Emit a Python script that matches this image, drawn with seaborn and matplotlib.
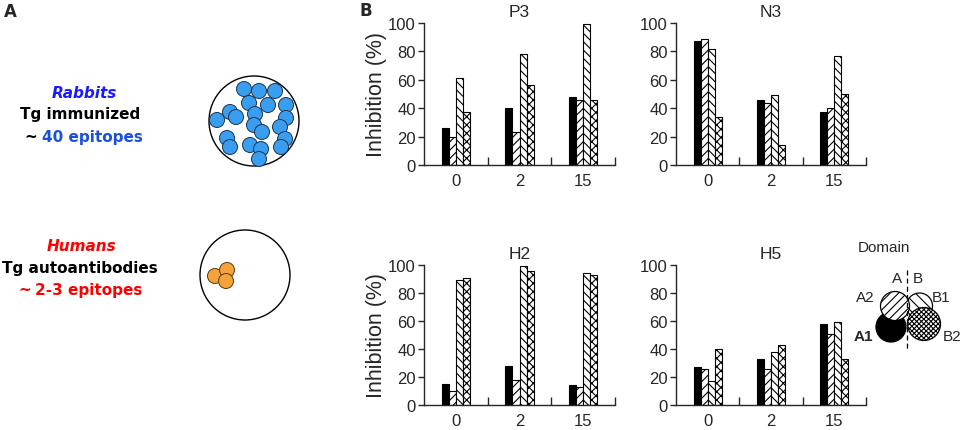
import numpy as np
import pandas as pd
import matplotlib
matplotlib.use("Agg")
import matplotlib.pyplot as plt
import seaborn as sns
from matplotlib.patches import Circle
from matplotlib.ticker import FixedLocator

# ---------------- data ----------------
times = ["0", "2", "15"]
domains = ["A1", "A2", "B1", "B2"]
panel_names = ["P3", "N3", "H2", "H5"]
yticks = [0, 20, 40, 60, 80, 100]

# rows = domains (A1, A2, B1, B2), columns = times (0, 2, 15)
p3_values = [[26, 40, 48], [20, 23, 46], [61, 78, 99], [37, 56, 46]]
n3_values = [[87, 46, 37], [89, 44, 40], [82, 49, 77], [34, 14, 50]]
h2_values = [[15, 28, 14], [10, 18, 13], [89, 99, 94], [91, 96, 93]]
h5_values = [[27, 33, 58], [26, 26, 51], [17, 38, 59], [40, 43, 33]]
panel_values = {"P3": p3_values, "N3": n3_values, "H2": h2_values, "H5": h5_values}

# panel A schematic (decorative)
rabbit_epi_x = [244, 259, 275, 249, 268, 286, 230, 236, 255, 217, 286, 254, 262, 280, 227, 230, 250, 261, 285, 281, 259]
rabbit_epi_y = [90, 92, 92, 104, 106, 106, 113, 118, 115, 121, 119, 126, 133, 128, 139, 148, 146, 150, 140, 148, 160]
human_epi_x = [215, 227, 226]
human_epi_y = [277, 271, 282]

# ---------------- style ----------------
sns.set_style("ticks")
plt.rcParams["font.family"] = ["Liberation Sans", "DejaVu Sans"]
plt.rcParams["hatch.linewidth"] = 0.8

W, H = 965, 431
fig = plt.figure(figsize=(9.65, 4.31), dpi=100)


def px_axes(l, t, r, b):
    return fig.add_axes([l / W, 1 - b / H, (r - l) / W, (b - t) / H])


boxes = {"P3": (424, 24, 615, 166), "N3": (676, 24, 866, 166),
         "H2": (424, 266, 615, 406), "H5": (676, 266, 866, 406)}
palette = {"A1": "black", "A2": "white", "B1": "white", "B2": "white"}
hatches = [None, "////", "\\\\\\\\", "xxxx"]

for name in panel_names:
    ax = px_axes(*boxes[name])
    vals = panel_values[name]
    df = pd.DataFrame({
        "time": np.tile(times, len(domains)),
        "domain": np.repeat(domains, len(times)),
        "value": np.ravel(vals),
    })
    sns.barplot(data=df, x="time", y="value", hue="domain", order=times,
                hue_order=domains, palette=palette, width=0.44, saturation=1,
                edgecolor="black", linewidth=0.8, errorbar=None, legend=False, ax=ax)
    for cont, hatch in zip(ax.containers, hatches):
        for bar in cont:
            if hatch:
                bar.set_hatch(hatch)
    ax.set_xlim(-0.5, 2.5)
    ax.set_ylim(0, 100)
    ax.set_yticks(yticks)
    ax.xaxis.set_minor_locator(FixedLocator([0.5, 1.5, 2.5]))
    ax.tick_params(axis="x", which="major", length=0, pad=6, labelsize=12)
    ax.tick_params(axis="x", which="minor", direction="in", length=6, width=1)
    ax.tick_params(axis="y", direction="out", length=4, width=1, pad=2, labelsize=12)
    for s in ["left", "bottom"]:
        ax.spines[s].set_linewidth(1)
    sns.despine(ax=ax)
    ax.set_xlabel("")
    ax.set_title(name, fontsize=12.5, pad=5)
    if name in ("P3", "H2"):
        ax.set_ylabel("Inhibition (%)", fontsize=15.5, labelpad=1)
    else:
        ax.set_ylabel("")

# ---------------- overlay: panel A + domain legend ----------------
ov = fig.add_axes([0, 0, 1, 1])
ov.set_xlim(0, W)
ov.set_ylim(H, 0)
ov.axis("off")

bold = dict(family="DejaVu Sans", weight="bold", fontsize=11)
ov.text(10, 12, "A", ha="center", va="center", family="DejaVu Sans", weight="bold", fontsize=12)
ov.text(366, 11, "B", ha="center", va="center", family="DejaVu Sans", weight="bold", fontsize=12)

ov.text(84, 93, "Rabbits", ha="center", va="center", color="#1a1aff", style="italic", **bold)
ov.text(80, 115, "Tg immunized", ha="center", va="center", color="black", **bold)
ov.text(31, 137, "~", ha="center", va="center", color="black", **bold)
ov.text(42, 138, "40 epitopes", ha="left", va="center", color="#1a4fe0", **bold)

ov.text(82, 247, "Humans", ha="center", va="center", color="#ff0000", style="italic", **bold)
ov.text(80, 269, "Tg autoantibodies", ha="center", va="center", color="black", **bold)
ov.text(25, 290, "~", ha="center", va="center", color="#ff0000", **bold)
ov.text(35, 291, "2-3 epitopes", ha="left", va="center", color="#ff0000", **bold)

ov.add_patch(Circle((254, 122), 45, fc="white", ec="black", lw=1))
for x, y in zip(rabbit_epi_x, rabbit_epi_y):
    ov.add_patch(Circle((x, y), 7.5, fc="#3a9ef0", ec="#1b3550", lw=0.7))
ov.add_patch(Circle((245, 276), 45, fc="white", ec="black", lw=1))
for x, y in zip(human_epi_x, human_epi_y):
    ov.add_patch(Circle((x, y), 7.5, fc="#f7a13a", ec="#5a3a10", lw=0.7))

# domain legend
ov.text(884, 248, "Domain", ha="center", va="center", fontsize=11)
ov.add_patch(Circle((919.5, 307), 13, fc="white", ec="black", lw=0.9, hatch="\\\\\\", zorder=2))
ov.add_patch(Circle((891, 328), 15, fc="black", ec="black", lw=0.9, zorder=2))
ov.add_patch(Circle((895, 307), 14.5, fc="white", ec="black", lw=0.9, hatch="////", zorder=3))
ov.add_patch(Circle((924, 325), 16.5, fc="white", ec="black", lw=0.9, hatch="xxxxxxx", zorder=3))
ov.plot([907, 907], [271, 351], color="black", lw=0.9, ls=(0, (4, 2.5)), zorder=4)
ov.text(897, 279, "A", ha="center", va="center", fontsize=11)
ov.text(918, 279, "B", ha="center", va="center", fontsize=11)
ov.text(865, 298, "A2", ha="center", va="center", fontsize=11)
ov.text(941, 298, "B1", ha="center", va="center", fontsize=11)
ov.text(863, 337, "A1", ha="center", va="center", fontsize=11, weight="bold")
ov.text(952, 337, "B2", ha="center", va="center", fontsize=11)

fig.savefig("out.png", dpi=100)
